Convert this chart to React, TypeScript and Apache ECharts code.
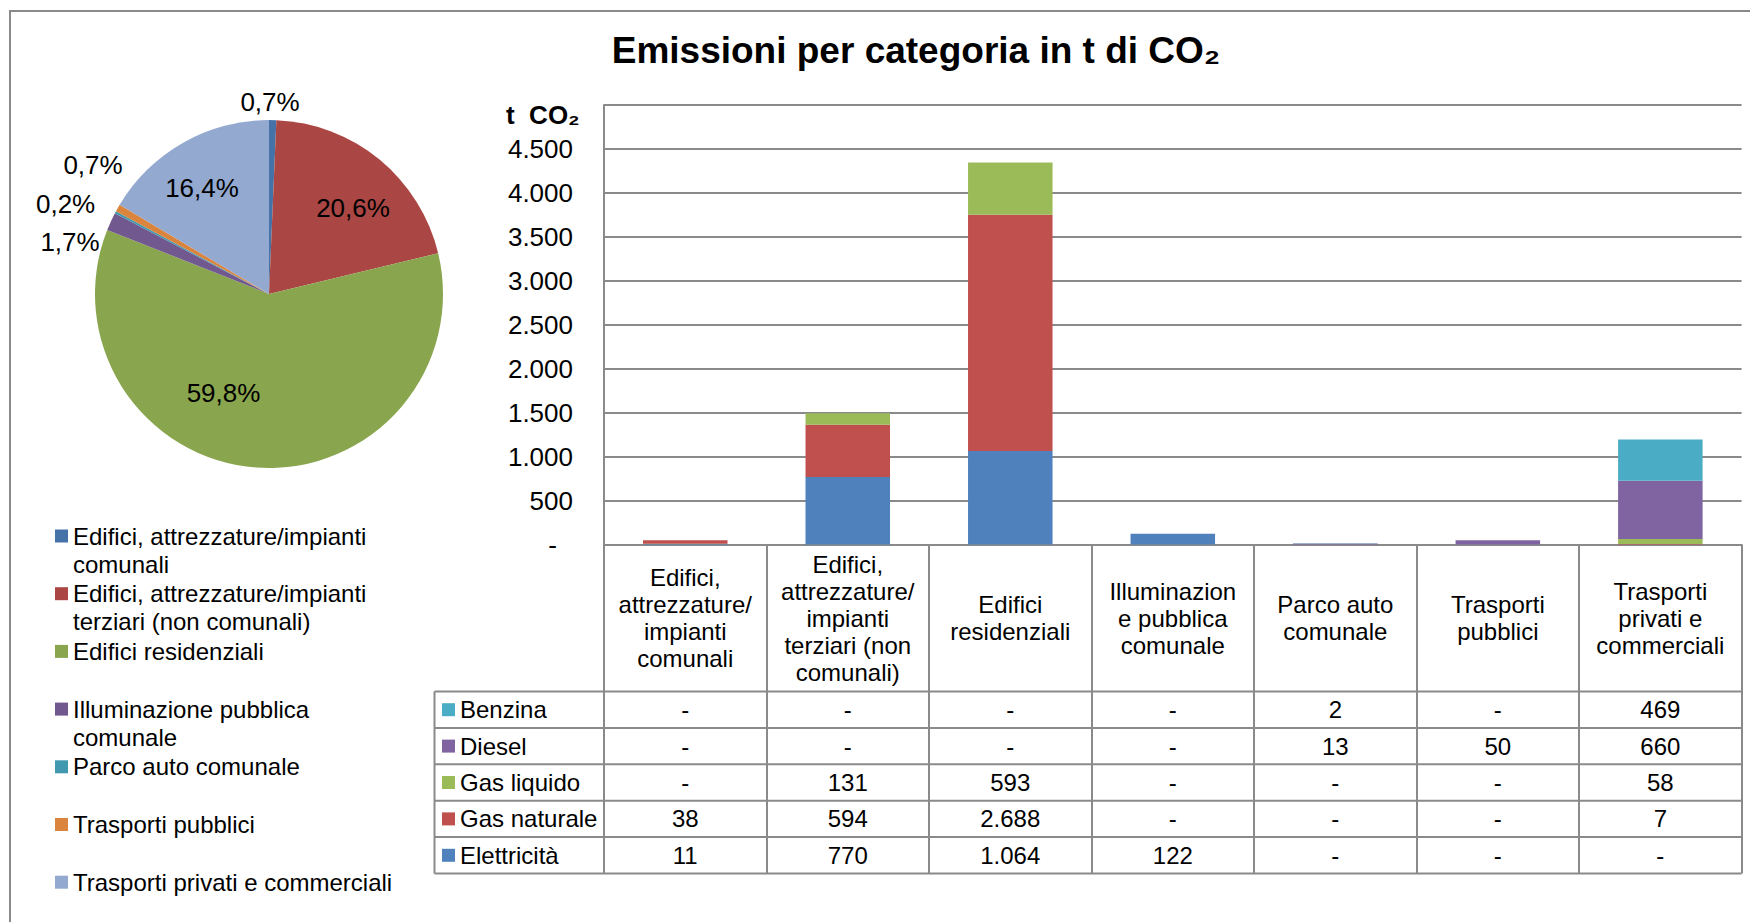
import React, { useEffect, useRef } from 'react';
import * as echarts from 'echarts';

// ---------- DATA ----------
const CATEGORIES = [
  'Edifici, attrezzature/impianti comunali',
  'Edifici, attrezzature/impianti terziari (non comunali)',
  'Edifici residenziali',
  'Illuminazione pubblica comunale',
  'Parco auto comunale',
  'Trasporti pubblici',
  'Trasporti privati e commerciali',
];
const AXIS_LABELS = [
  'Edifici,\nattrezzature/\nimpianti\ncomunali',
  'Edifici,\nattrezzature/\nimpianti\nterziari (non\ncomunali)',
  'Edifici\nresidenziali',
  'Illuminazion\ne pubblica\ncomunale',
  'Parco auto\ncomunale',
  'Trasporti\npubblici',
  'Trasporti\nprivati e\ncommerciali',
];
const LEGEND_LABELS = [
  'Edifici, attrezzature/impianti\ncomunali',
  'Edifici, attrezzature/impianti\nterziari (non comunali)',
  'Edifici residenziali',
  'Illuminazione pubblica\ncomunale',
  'Parco auto comunale',
  'Trasporti pubblici',
  'Trasporti privati e commerciali',
];
const PIE_COLORS = ['#4572A7', '#AA4643', '#89A54E', '#71588F', '#4198AF', '#DB843D', '#93A9CF'];

const ELETTRICITA = [11, 770, 1064, 122, 0, 0, 0];
const GAS_NATURALE = [38, 594, 2688, 0, 0, 0, 7];
const GAS_LIQUIDO = [0, 131, 593, 0, 0, 0, 58];
const DIESEL = [0, 0, 0, 0, 13, 50, 660];
const BENZINA = [0, 0, 0, 0, 2, 0, 469];

const FUEL_NAMES = ['Elettricità', 'Gas naturale', 'Gas liquido', 'Diesel', 'Benzina'];
const FUEL_DATA = [ELETTRICITA, GAS_NATURALE, GAS_LIQUIDO, DIESEL, BENZINA];
const FUEL_COLORS = ['#4F81BD', '#C0504D', '#9BBB59', '#8064A2', '#4BACC6'];

const Y_MIN = 0;
const Y_MAX = 5000;
const Y_STEP = 500;

const TITLE = 'Emissioni per categoria in t di CO₂';
const Y_UNIT = 't  CO₂';

// ---------- LAYOUT ----------
const W = 1750;
const H = 922;
const FONT = '"Liberation Sans", Arial, Helvetica, sans-serif';
const GRID = { left: 604, top: 105, right: 8.4, bottom: 377.4 };
const LINE = '#8a8a8a';
const TABLE_LEFT = 434.5;
const TABLE_TOP = 691.5;
const ROW_H = 36.4;
const PIE_CENTER = [269, 294];
const PIE_R = 174;
const PIE_LABEL_POS = [
  [270, 102],
  [353, 207.5],
  [223.5, 393],
  [70, 241.5],
  [65.6, 204],
  [93, 164.5],
  [202, 187.5],
];

const fmtNum = (n: number) =>
  n === 0 ? '-' : String(n).replace(/\B(?=(\d{3})+(?!\d))/g, '.');

export default function App() {
  const ref = useRef<HTMLDivElement>(null);

  useEffect(() => {
    document.body.style.margin = '0';
    const chart = echarts.init(ref.current!, null, { renderer: 'svg' });

    const pieData = CATEGORIES.map((name, i) => ({
      name,
      value: FUEL_DATA.reduce((s, arr) => s + arr[i], 0),
      itemStyle: { color: PIE_COLORS[i] },
    }));

    chart.setOption({
      animation: false,
      backgroundColor: '#ffffff',
      textStyle: { fontFamily: FONT },
      grid: { ...GRID, containLabel: false, outerBoundsMode: 'none' },
      xAxis: {
        type: 'category',
        data: CATEGORIES,
        axisLine: { show: true, lineStyle: { color: LINE, width: 2 } },
        axisTick: {
          show: true,
          interval: 0,
          length: TABLE_TOP + 5 * ROW_H - (H - GRID.bottom),
          lineStyle: { color: LINE, width: 2 },
        },
        axisLabel: {
          interval: 0,
          formatter: (_v: string, i: number) => AXIS_LABELS[i],
          fontSize: 24,
          lineHeight: 27,
          color: '#000',
          fontFamily: FONT,
          verticalAlign: 'middle',
          margin: 73.5,
        },
        splitLine: { show: false },
      },
      yAxis: {
        type: 'value',
        min: Y_MIN,
        max: Y_MAX,
        interval: Y_STEP,
        axisLine: { show: true, lineStyle: { color: LINE, width: 2 } },
        axisTick: { show: false },
        splitLine: { show: true, lineStyle: { color: LINE, width: 2 } },
        axisLabel: {
          fontSize: 26,
          color: '#000',
          fontFamily: FONT,
          margin: 31,
          formatter: (v: number) =>
            v === Y_MAX ? '' : v === 0 ? '{z|-}' : fmtNum(v),
          rich: { z: { fontSize: 26, color: '#000', fontFamily: FONT, padding: [0, 16, 0, 0] } },
        },
      },
      series: [
        ...FUEL_NAMES.map((name, k) => ({
          type: 'bar',
          name,
          stack: 'total',
          data: FUEL_DATA[k],
          barWidth: '52%',
          itemStyle: { color: FUEL_COLORS[k] },
          silent: true,
        })),
        {
          type: 'pie',
          center: PIE_CENTER,
          radius: PIE_R,
          startAngle: 90,
          clockwise: true,
          silent: true,
          avoidLabelOverlap: false,
          data: pieData,
          itemStyle: { borderWidth: 0 },
          label: {
            show: true,
            position: 'outside',
            alignTo: 'none',
            overflow: 'none',
            color: '#000',
            fontSize: 26,
            fontFamily: FONT,
            formatter: (p: any) => p.percent.toFixed(1).replace('.', ',') + '%',
          },
          labelLine: { show: false },
          labelLayout: (p: any) => ({
            x: PIE_LABEL_POS[p.dataIndex][0],
            y: PIE_LABEL_POS[p.dataIndex][1],
            align: 'center',
            verticalAlign: 'middle',
          }),
        },
      ],
    });

    const centers = CATEGORIES.map(
      (_c, i) => chart.convertToPixel({ xAxisIndex: 0 }, i) as number
    );
    const tableRight = W - GRID.right;
    const graphic: any[] = [];

    // outer frame
    graphic.push({
      type: 'rect',
      shape: { x: 10, y: 11, width: 2000, height: 2000 },
      style: { fill: 'none', stroke: LINE, lineWidth: 2 },
      silent: true,
    });
    // title
    graphic.push({
      type: 'text',
      x: 916,
      y: 50,
      style: {
        text: TITLE,
        fill: '#000',
        fontSize: 37,
        fontWeight: 'bold',
        fontFamily: FONT,
        align: 'center',
        verticalAlign: 'middle',
      },
    });
    // y unit
    graphic.push({
      type: 'text',
      x: 506,
      y: 115,
      style: {
        text: Y_UNIT,
        fill: '#000',
        fontSize: 26,
        fontWeight: 'bold',
        fontFamily: FONT,
        align: 'left',
        verticalAlign: 'middle',
      },
    });

    // table lines
    for (let r = 0; r <= 5; r++) {
      const y = TABLE_TOP + r * ROW_H;
      graphic.push({
        type: 'line',
        shape: { x1: TABLE_LEFT, y1: y, x2: tableRight, y2: y },
        style: { stroke: LINE, lineWidth: 2 },
      });
    }
    graphic.push({
      type: 'line',
      shape: { x1: TABLE_LEFT, y1: TABLE_TOP, x2: TABLE_LEFT, y2: TABLE_TOP + 5 * ROW_H },
      style: { stroke: LINE, lineWidth: 2 },
    });

    // table rows (top to bottom: reverse of stack order)
    const rowOrder = [4, 3, 2, 1, 0];
    rowOrder.forEach((k, r) => {
      const cy = TABLE_TOP + (r + 0.5) * ROW_H;
      graphic.push({
        type: 'rect',
        shape: { x: 442, y: cy - 6.5, width: 13, height: 13 },
        style: { fill: FUEL_COLORS[k] },
      });
      graphic.push({
        type: 'text',
        x: 460,
        y: cy,
        style: {
          text: FUEL_NAMES[k],
          fill: '#000',
          fontSize: 24,
          fontFamily: FONT,
          align: 'left',
          verticalAlign: 'middle',
        },
      });
      FUEL_DATA[k].forEach((v, i) => {
        graphic.push({
          type: 'text',
          x: centers[i],
          y: cy,
          style: {
            text: fmtNum(v),
            fill: '#000',
            fontSize: 24,
            fontFamily: FONT,
            align: 'center',
            verticalAlign: 'middle',
          },
        });
      });
    });

    // pie legend
    LEGEND_LABELS.forEach((lab, i) => {
      const cy = 536 + i * 57.7;
      graphic.push({
        type: 'rect',
        shape: { x: 55, y: cy - 6.5, width: 13, height: 13 },
        style: { fill: PIE_COLORS[i] },
      });
      graphic.push({
        type: 'text',
        x: 73,
        y: cy - 14,
        style: {
          text: lab,
          fill: '#000',
          fontSize: 24,
          lineHeight: 28,
          fontFamily: FONT,
          align: 'left',
          verticalAlign: 'top',
        },
      });
    });

    chart.setOption({ graphic });

    return () => chart.dispose();
  }, []);

  return (
    <div
      ref={ref}
      style={{ position: 'absolute', left: 0, top: 0, width: W, height: H, background: '#fff' }}
    />
  );
}
